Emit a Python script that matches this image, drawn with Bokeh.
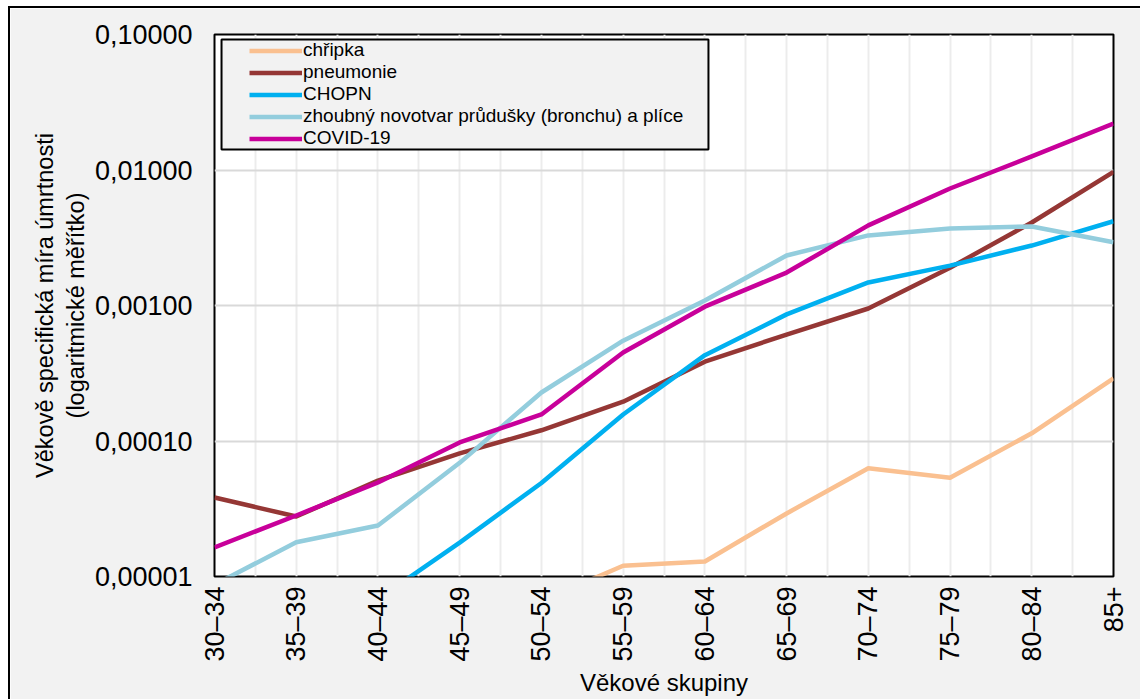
import math
from bokeh.plotting import figure
from bokeh.models import (Range1d, FixedTicker, CustomJSTickFormatter, Legend, LegendItem,
                          BoxAnnotation)
from bokeh.embed import file_html
from bokeh.resources import INLINE

nan = float("nan")

categories = ["30–34", "35–39", "40–44", "45–49", "50–54", "55–59",
              "60–64", "65–69", "70–74", "75–79", "80–84", "85+"]

chripka = [nan, nan, nan, nan, 6.6e-6, 1.2e-5, 1.29e-5, 2.92e-5, 6.3e-5, 5.35e-5, 1.14e-4, 2.9e-4]
pneumonie = [3.83e-5, 2.77e-5, 5.1e-5, 8.1e-5, 1.2e-4, 1.95e-4, 3.85e-4, 6.1e-4, 9.5e-4, 1.9e-3, 4.1e-3, 9.7e-3]
chopn = [nan, nan, 6.8e-6, 1.78e-5, 4.9e-5, 1.57e-4, 4.3e-4, 8.6e-4, 1.48e-3, 1.97e-3, 2.77e-3, 4.19e-3]
zhoubny = [8.7e-6, 1.79e-5, 2.38e-5, 6.9e-5, 2.28e-4, 5.5e-4, 1.09e-3, 2.34e-3, 3.29e-3, 3.7e-3, 3.83e-3, 2.93e-3]
covid = [1.64e-5, 2.82e-5, 4.94e-5, 9.75e-5, 1.57e-4, 4.5e-4, 9.8e-4, 1.75e-3, 3.9e-3, 7.3e-3, 0.0126, 0.022]

y_ticks = [1e-5, 1e-4, 1e-3, 1e-2, 1e-1]

series = [
    ("chřipka", chripka, "#fac090"),
    ("pneumonie", pneumonie, "#953735"),
    ("CHOPN", chopn, "#00b0f0"),
    ("zhoubný novotvar průdušky (bronchu) a plíce", zhoubny, "#93cddd"),
    ("COVID-19", covid, "#c8009a"),
]

FONT = "Liberation Sans"
n = len(categories)
xs = list(range(n))

p = figure(width=1130, height=691, frame_width=899, frame_height=542,
           x_range=Range1d(0, n - 1), y_range=Range1d(y_ticks[0], y_ticks[-1]),
           y_axis_type="log", output_backend="svg", toolbar_location=None,
           min_border_left=204, min_border_top=26, min_border_right=27, min_border_bottom=123)
p.styles = {"margin-left": "8px", "margin-top": "6px",
            "border-left": "2px solid black", "border-top": "2px solid black"}

p.background_fill_color = "white"
p.border_fill_color = "#f2f2f2"
p.outline_line_color = "black"
p.outline_line_width = 2

# grids
p.xgrid.ticker = FixedTicker(ticks=[i * 0.5 for i in range(2 * (n - 1) + 1)])
p.xgrid.grid_line_color = "#ececec"
p.xgrid.grid_line_width = 2
p.ygrid.ticker = FixedTicker(ticks=y_ticks)
p.ygrid.grid_line_color = "#d9d9d9"
p.ygrid.grid_line_width = 2

# axes
p.xaxis.ticker = FixedTicker(ticks=xs)
p.xaxis.formatter = CustomJSTickFormatter(args=dict(labels=categories),
                                          code="return labels[Math.round(tick)];")
p.xaxis.major_label_orientation = math.pi / 2
p.yaxis.ticker = FixedTicker(ticks=y_ticks, minor_ticks=[])
p.yaxis.formatter = CustomJSTickFormatter(code="return tick.toFixed(5).replace('.', ',');")

for ax in (p.xaxis[0], p.yaxis[0]):
    ax.axis_line_color = None
    ax.major_tick_line_color = None
    ax.minor_tick_line_color = None
    ax.major_tick_out = 0
    ax.major_tick_in = 0
    ax.major_label_text_font = FONT
    ax.major_label_text_font_size = "27px"
    ax.major_label_text_color = "black"
    ax.axis_label_text_font = FONT
    ax.axis_label_text_font_style = "normal"
    ax.axis_label_text_color = "black"

p.xaxis.major_label_standoff = 10
p.yaxis.major_label_standoff = 22
p.xaxis.axis_label = "Věkové skupiny"
p.xaxis.axis_label_text_font_size = "24px"
p.xaxis.axis_label_standoff = 4
p.yaxis.axis_label = "Věkově specifická míra úmrtnosti\n(logaritmické měřítko)"
p.yaxis.axis_label_text_font_size = "23.5px"
p.yaxis.axis_label_standoff = 3

items = []
for name, vals, color in series:
    r = p.line(xs, vals, line_color=color, line_width=4.5, line_join="round")
    items.append(LegendItem(label=name, renderers=[r]))

# legend frame (drawn behind the legend entries)
box = BoxAnnotation(left=0.086, right=6.044, top=0.0919, bottom=0.01417,
                    fill_color="#f2f2f2", fill_alpha=1.0,
                    line_color="black", line_alpha=1.0, line_width=2)
p.add_layout(box)

legend = Legend(items=items, location=(33, 425))
legend.glyph_width = 53
legend.glyph_height = 21
legend.label_height = 21
legend.spacing = 0
legend.padding = 2
legend.margin = 0
legend.label_standoff = 1
legend.label_text_font = FONT
legend.label_text_font_size = "19px"
legend.label_text_color = "black"
legend.border_line_alpha = 0
legend.background_fill_alpha = 0
p.add_layout(legend)

open("out.html", "w").write(file_html(p, INLINE))
